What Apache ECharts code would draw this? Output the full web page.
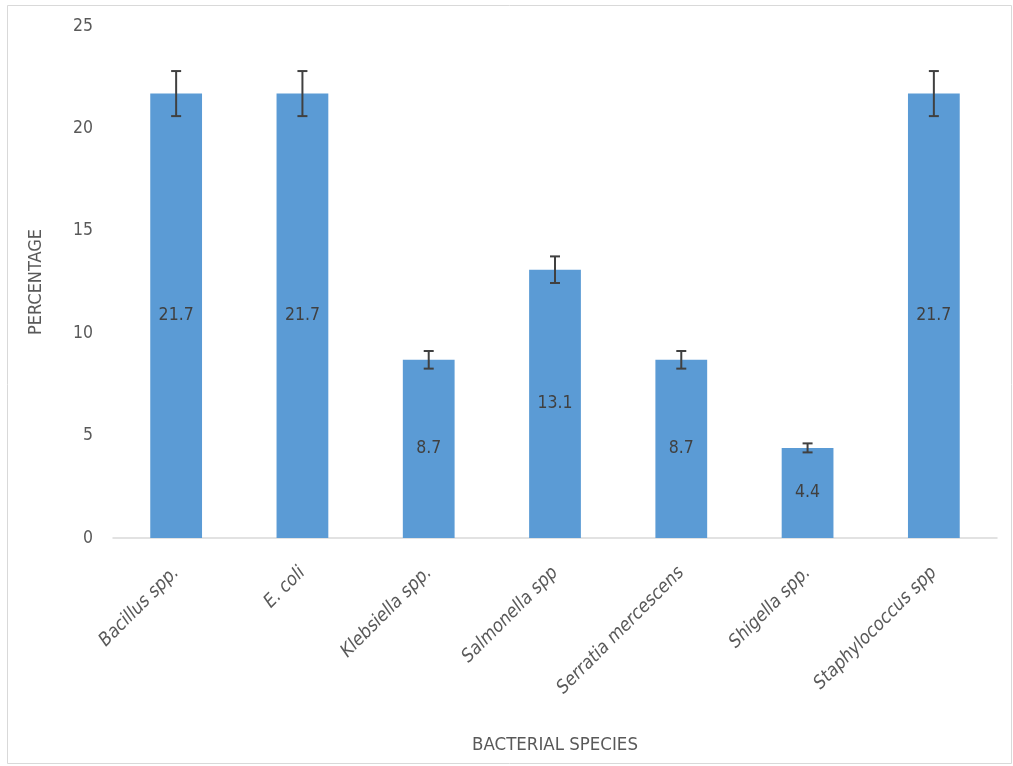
<!DOCTYPE html>
<html>
<head>
<meta charset="utf-8">
<script src="https://cdn.jsdelivr.net/npm/echarts@6/dist/echarts.min.js"></script>
<style>html,body{margin:0;padding:0;background:#fff}#c{width:1013px;height:766px}</style>
</head>
<body>
<div id="c"></div>
<script>
var categories = ['Bacillus spp.', 'E. coli', 'Klebsiella spp.', 'Salmonella spp', 'Serratia mercescens', 'Shigella spp.', 'Staphylococcus spp'];
var values = [21.7, 21.7, 8.7, 13.1, 8.7, 4.4, 21.7];
var errors = [1.1, 1.1, 0.43, 0.65, 0.43, 0.22, 1.1];
var yTicks = [0, 5, 10, 15, 20, 25];

var FONT = '"Liberation Sans Narrow", "DejaVu Sans Condensed", Roboto, sans-serif';
var chart = echarts.init(document.getElementById('c'));
var errData = values.map(function (v, i) { return [i, v - errors[i], v + errors[i]]; });

chart.setOption({
  animation: false,
  backgroundColor: '#fff',
  graphic: [{
    type: 'rect', left: 5, top: 3,
    shape: { width: 1004, height: 758 },
    style: { fill: 'none', stroke: '#d9d9d9', lineWidth: 1 }
  }],
  grid: { left: 113, right: 16, top: 26, bottom: 228 },
  xAxis: {
    type: 'category',
    data: categories,
    name: 'BACTERIAL SPECIES',
    nameLocation: 'middle',
    nameGap: 198,
    nameTextStyle: { fontFamily: FONT, fontSize: 18.5, color: '#595959' },
    axisLine: { lineStyle: { color: '#d9d9d9', width: 1.5 } },
    axisTick: { show: false },
    axisLabel: {
      rotate: 45, margin: 32, interval: 0,
      fontFamily: FONT, fontSize: 18.5, fontStyle: 'italic', color: '#595959'
    }
  },
  yAxis: {
    type: 'value',
    min: 0, max: 25, interval: 5,
    name: 'PERCENTAGE',
    nameLocation: 'middle',
    nameGap: 68,
    nameTextStyle: { fontFamily: FONT, fontSize: 18, color: '#595959' },
    axisLine: { show: false },
    axisTick: { show: false },
    splitLine: { show: false },
    axisLabel: {
      margin: 20, fontFamily: FONT, fontSize: 17.5, color: '#595959',
      formatter: function (v) { return yTicks.indexOf(v) >= 0 ? String(v) : ''; }
    }
  },
  series: [{
    type: 'bar',
    data: values,
    barWidth: '41%',
    itemStyle: { color: '#5B9BD5' },
    label: {
      show: true, position: 'inside',
      fontFamily: FONT, fontSize: 17.5, color: '#404040'
    }
  }, {
    type: 'custom',
    data: errData,
    z: 10,
    renderItem: function (params, api) {
      var x = api.value(0);
      var lo = api.coord([x, api.value(1)]);
      var hi = api.coord([x, api.value(2)]);
      var cap = 5;
      var st = { stroke: '#404040', lineWidth: 2 };
      return {
        type: 'group',
        children: [
          { type: 'line', shape: { x1: hi[0], y1: hi[1], x2: lo[0], y2: lo[1] }, style: st },
          { type: 'line', shape: { x1: hi[0] - cap, y1: hi[1], x2: hi[0] + cap, y2: hi[1] }, style: st },
          { type: 'line', shape: { x1: lo[0] - cap, y1: lo[1], x2: lo[0] + cap, y2: lo[1] }, style: st }
        ]
      };
    }
  }]
});
</script>
</body>
</html>
